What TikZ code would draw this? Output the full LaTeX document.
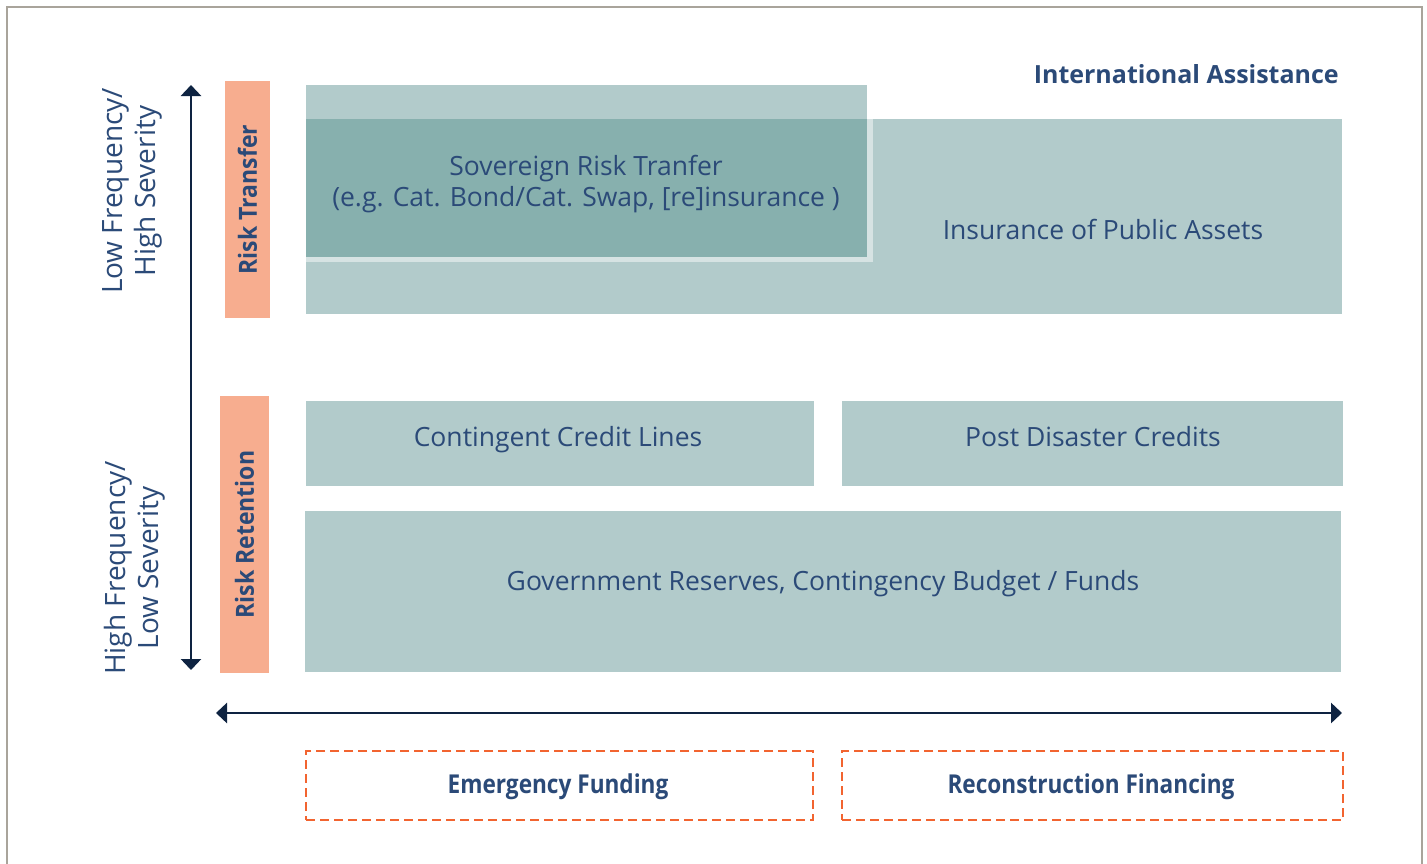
\documentclass[tikz,border=0pt]{standalone}
\usepackage{fontspec}
\setmainfont{Open Sans}
\newfontfamily\sidefont[FakeStretch=0.92]{Open Sans}
\newfontfamily\condbold[FakeStretch=0.87]{Open Sans}
\usetikzlibrary{arrows.meta}
\definecolor{navy}{HTML}{2B4A78}
\definecolor{arrowc}{HTML}{0E2341}
\definecolor{teal}{HTML}{B2CBCB}
\definecolor{tealdark}{HTML}{87B0AE}
\definecolor{tealline}{HTML}{D6E3E3}
\definecolor{salmon}{HTML}{F7AD8F}
\definecolor{orangec}{HTML}{F26430}
\definecolor{framec}{HTML}{A9A49B}
\tikzset{
  box/.style={fill=teal, draw=none, inner sep=0pt},
  boxtext/.style={text=navy, font=\fontsize{26.5}{31}\selectfont, align=center, inner sep=0pt},
  sidebox/.style={fill=salmon, draw=none, inner sep=0pt, text=navy, font=\fontsize{25}{28}\selectfont\sidefont\bfseries, rotate=90},
  dashbox/.style={draw=orangec, line width=2.2pt, dash pattern=on 9pt off 5pt, inner sep=0pt},
  dashtext/.style={text=navy, font=\fontsize{26}{30}\selectfont\condbold\bfseries, inner sep=0pt},
  axislabel/.style={text=navy, font=\fontsize{28}{33}\selectfont, align=center, rotate=90},
  axis/.style={draw=arrowc, line width=2.8pt, {Triangle[width=20pt,length=11pt]}-{Triangle[width=20pt,length=11pt]}}
}
\begin{document}
\begin{tikzpicture}[x=1pt,y=-1pt]
\useasboundingbox (0,0) rectangle (1427,863);
\fill[white] (0,0) rectangle (1427,863);
% frame
\draw[framec, line width=2pt] (7,870) -- (7,7) -- (1422,7) -- (1422,870);

% upper boxes
\node[box, minimum width=1036pt, minimum height=195pt, anchor=north west] (ins) at (306,119) {};
\node[boxtext, anchor=base] (inslabel) at (1103,239) {Insurance of Public Assets};
\fill[tealline] (306,119) rectangle (873,262);
\node[box, minimum width=561pt, minimum height=172pt, anchor=north west] (sov) at (306,85) {};
\fill[tealdark] (306,119) rectangle (867,257);
\node[boxtext] (sovlabel) at (586,184) {Sovereign Risk Tranfer\\(e.g. Cat. Bond/Cat. Swap, [re]insurance )};

\node[text=navy, font=\fontsize{25}{30}\selectfont\bfseries, anchor=base east, inner sep=0pt] (intl) at (1339,83) {International Assistance};

% lower boxes
\node[box, minimum width=508pt, minimum height=85pt, anchor=north west] (ccl) at (306,401) {};
\node[boxtext, anchor=base] (ccllabel) at (558,446) {Contingent Credit Lines};
\node[box, minimum width=501pt, minimum height=85pt, anchor=north west] (pdc) at (842,401) {};
\node[boxtext, anchor=base] (pdclabel) at (1093,446) {Post Disaster Credits};
\node[box, minimum width=1036pt, minimum height=161pt, anchor=north west] (gov) at (305,511) {};
\node[boxtext, anchor=base] (govlabel) at (823,590) {Government Reserves, Contingency Budget / Funds};

% side boxes
\node[sidebox, minimum width=237pt, minimum height=45pt] (rt) at (247.5,199.5) {Risk Transfer};
\node[sidebox, minimum width=277pt, minimum height=49pt] (rr) at (244.5,534.5) {Risk Retention};

% axis labels
\node[axislabel] (lf) at (132,191) {Low Frequency/\\High Severity};
\node[axislabel] (hf) at (135,568) {High Frequency/\\Low Severity};

% axes
\coordinate (vtop) at (191,85);
\coordinate (vbot) at (191,670);
\draw[axis] (vtop) -- (vbot);
\coordinate (hleft) at (216,713);
\coordinate (hright) at (1342,713);
\draw[axis] (hleft) -- (hright);

% dashed boxes
\node[dashbox, minimum width=507pt, minimum height=69pt, anchor=north west] (ef) at (305,750) {};
\node[dashtext, anchor=base] (eflabel) at (558,793) {Emergency Funding};
\node[dashbox, minimum width=501pt, minimum height=69pt, anchor=north west] (rf) at (841,750) {};
\node[dashtext, anchor=base] (rflabel) at (1091,793) {Reconstruction Financing};
\end{tikzpicture}
\end{document}
